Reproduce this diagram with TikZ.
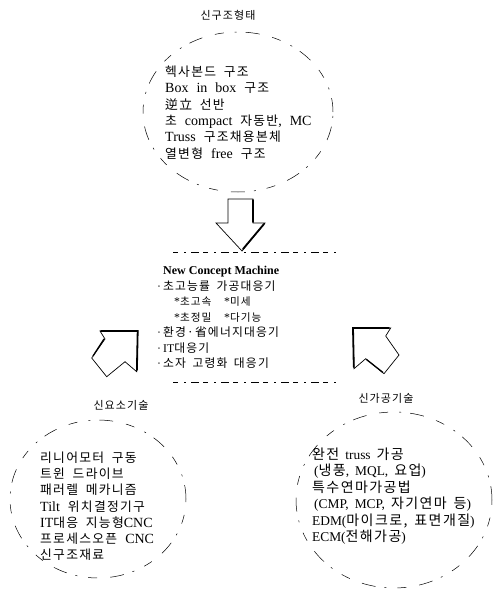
\documentclass[tikz,border=0pt]{standalone}
\usepackage{fontspec}
\setmainfont{Liberation Serif}
\newfontfamily\kr[LetterSpace=10]{Noto Sans CJK KR}
\newcommand\K[1]{{\kr\spaceskip=0.55em\relax #1}}
\newcommand\KW[1]{{\fontsize{12.8}{15}\kr\spaceskip=0.6em\relax #1}}
\newcommand\KR[1]{{\fontsize{14}{15}\kr\spaceskip=0.5em\relax #1}}
\newcommand\KS[1]{{\fontsize{10.6}{14}\kr #1}}
\begin{document}
\begin{tikzpicture}[x=1pt,y=-1pt,
  txt/.style={inner sep=0pt, anchor=base west, font={\fontsize{14}{15}\selectfont\spaceskip=8pt\relax}},
  txs/.style={inner sep=0pt, anchor=base west, font={\fontsize{11.8}{14}\selectfont}},
  txr/.style={inner sep=0pt, anchor=base west, font={\fontsize{13.4}{14}\selectfont\spaceskip=6pt\relax}},
  ttl/.style={inner sep=0pt, anchor=base, font={\fontsize{11}{14}\selectfont}},
  ell/.style={line width=0.5pt, dash pattern=on 14pt off 9pt on 2pt off 11pt on 9pt off 13pt},
  rule/.style={line width=0.6pt, dash pattern=on 5pt off 6pt on 2pt off 5pt on 8pt off 4pt},
  arr/.style={line width=0.7pt, line join=miter},
  shade/.style={line width=1.8pt, line cap=round}]
\useasboundingbox (0,0) rectangle (497,592);

% titles
\node[ttl] (ttop) at (228,19.5) {\K{신구조형태}};
\node[ttl] (tleft) at (121,409.5) {\K{신요소기술}};
\node[ttl] (tright) at (386,402.5) {\K{신가공기술}};

% dashed ellipses
\draw[ell] (238,112) ellipse [x radius=95pt, y radius=80pt];
\draw[ell] (98,499) ellipse [x radius=88pt, y radius=79pt];
\draw[ell] (394,500) ellipse [x radius=98pt, y radius=88pt];

% top block
\foreach \s [count=\i] in {
  {\KW{헥사본드 구조}},
  {Box in box \KW{구조}},
  {\KW{逆立 선반}},
  {\KW{초} compact \KW{자동반}, MC},
  {Truss \KW{구조채용본체}},
  {\KW{열변형} free \KW{구조}}}
  \node[txt] (top\i) at (165,{76.5+(\i-1)*16.3}) {\s};

% NCM block
\draw[rule] (173,252) -- (340,252);
\draw[rule] (173,382) -- (340,382);
\node[txs] (ncm1) at (163,274.5) {\fontsize{12}{14}\selectfont\textbf{New Concept Machine}};
\node[txs] (ncm2) at (157,290) {·\hspace{2pt}\K{초고능률 가공대응기}};
\node[txs] (ncm3) at (174,305.5) {\rlap{*\KS{초고속}}\hspace{50pt}*\KS{미세}};
\node[txs] (ncm4) at (174,321) {\rlap{*\KS{초정밀}}\hspace{50pt}*\KS{다기능}};
\node[txs] (ncm5) at (157,336.5) {·\hspace{2pt}\K{환경·省에너지대응기}};
\node[txs] (ncm6) at (157,352) {·\hspace{2pt}IT\K{대응기}};
\node[txs] (ncm7) at (157,367.5) {·\hspace{2pt}\K{소자 고령화 대응기}};

% left block
\foreach \s [count=\i] in {
  {\KW{리니어모터 구동}},
  {\KW{트윈 드라이브}},
  {\KW{패러렐 메카니즘}},
  {Tilt \KW{위치결정기구}},
  {IT\KW{대응 지능형}CNC},
  {\KW{프로세스오픈} CNC},
  {\KW{신구조재료}}}
  \node[txt] (left\i) at (40,{462.5+(\i-1)*16.2}) {\s};

% right block
\foreach \s [count=\i] in {
  {\KR{완전} truss \KR{가공}},
  {\hspace{2pt}(\KR{냉풍}, MQL, \KR{요업})},
  {\KR{특수연마가공법}},
  {\hspace{2pt}(CMP, MCP, \KR{자기연마 등})},
  {EDM(\KR{마이크로, 표면개질})},
  {ECM(\KR{전해가공})}}
  \node[txr] (right\i) at (312,{459.5+(\i-1)*16.4}) {\s};

% down arrow
\draw[arr] (228,199) -- (253,199) -- (253,223) -- (265,223) -- (242,251) -- (216,223) -- (228,223) -- cycle;
\draw[shade] (253,200) -- (253,222) (264,224) -- (243,249);

% left arrow (pointing up-right)
\draw[arr] (137.7,331) -- (100,331) -- (105,339) -- (91.7,358) -- (106.7,376.7) -- (125,361.7) -- (136.7,371.7) -- cycle;
\draw[shade] (101,331) -- (137.7,331) -- (136.9,370);
\draw[line width=1.3pt] (104,339) -- (93,356);

% right arrow (pointing up-left)
\draw[arr] (353,328) -- (390.7,328) -- (385.7,336) -- (399,355) -- (384,373.7) -- (365.7,358.7) -- (354,368.7) -- cycle;
\draw[shade] (389,328) -- (353,328) -- (353.8,367);
\draw[line width=1.3pt] (366.5,359.5) -- (383,372.5);
\end{tikzpicture}
\end{document}
